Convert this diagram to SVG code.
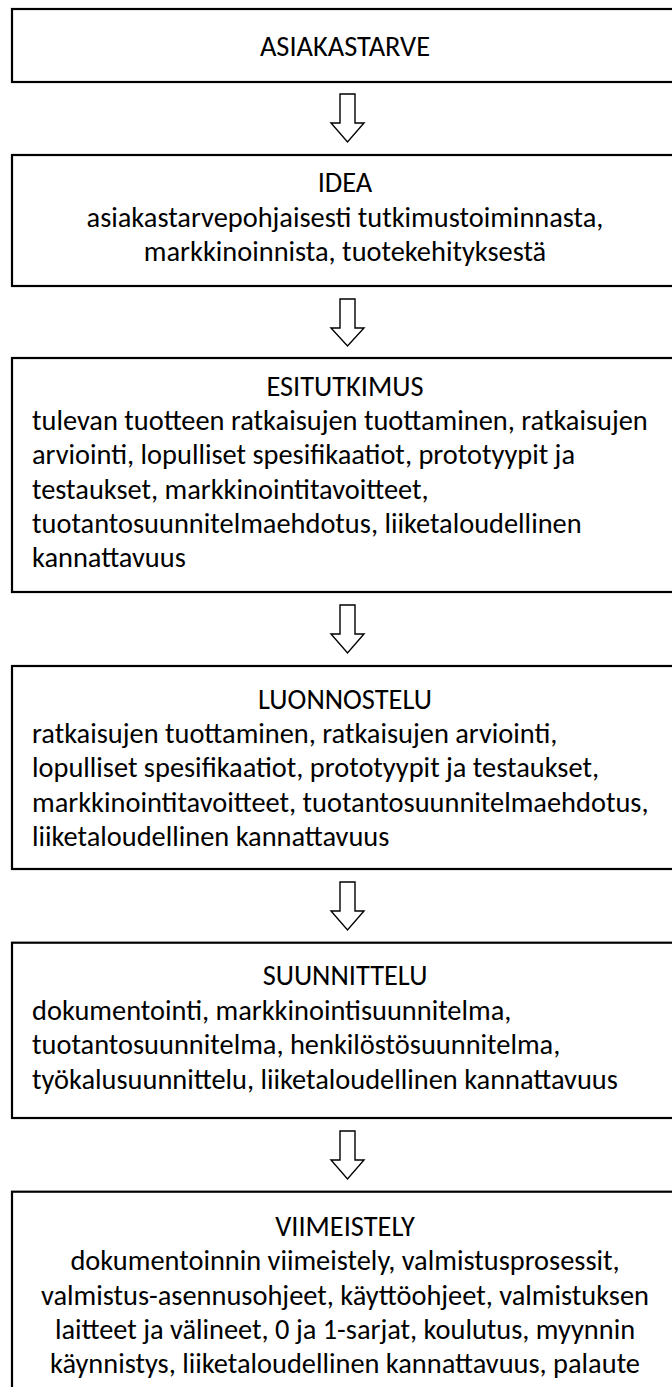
<svg xmlns="http://www.w3.org/2000/svg" width="672" height="1387" viewBox="0 0 672 1387">
<style>
.box{fill:#fff;stroke:#000;stroke-width:2.2}
.arr{fill:#fff;stroke:#000;stroke-width:1.4;stroke-linejoin:miter}
text{font-family:Carlito,Calibri,Lato,"Liberation Sans",sans-serif;font-size:28.4px;fill:#000}
.c{text-anchor:middle}
</style>
<rect width="672" height="1387" fill="#fff"/>
<g id="connectors">
<path class="arr" d="M340,94 V123 H331 L347.5,142 L364,123 H355 V94 Z"/>
<path class="arr" d="M340,299 V328 H331 L347.5,346 L364,328 H355 V299 Z"/>
<path class="arr" d="M340,605 V634 H331 L347.5,653 L364,634 H355 V605 Z"/>
<path class="arr" d="M340,882 V911 H331 L347.5,930 L364,911 H355 V882 Z"/>
<path class="arr" d="M340,1131 V1160 H331 L347.5,1179 L364,1160 H355 V1131 Z"/>
</g>
<g id="asiakastarve">
<rect class="box" x="12" y="9" width="668" height="73"/>
<text class="c" x="345" y="56">ASIAKASTARVE</text>
</g>
<g id="idea">
<rect class="box" x="12" y="155" width="668" height="131"/>
<text class="c" x="345" y="192">IDEA</text>
<text class="c" x="345" y="226.5">asiakastarvepohjaisesti tutkimustoiminnasta,</text>
<text class="c" x="345" y="261">markkinoinnista, tuotekehityksestä</text>
</g>
<g id="esitutkimus">
<rect class="box" x="12" y="358" width="668" height="234"/>
<text class="c" x="345" y="396">ESITUTKIMUS</text>
<text x="32" y="430">tulevan tuotteen ratkaisujen tuottaminen, ratkaisujen</text>
<text x="32" y="464">arviointi, lopulliset spesifikaatiot, prototyypit ja</text>
<text x="32" y="498.5">testaukset, markkinointitavoitteet,</text>
<text x="32" y="532.5">tuotantosuunnitelmaehdotus, liiketaloudellinen</text>
<text x="32" y="567">kannattavuus</text>
</g>
<g id="luonnostelu">
<rect class="box" x="12" y="666" width="668" height="203"/>
<text class="c" x="345" y="708.5">LUONNOSTELU</text>
<text x="32" y="743">ratkaisujen tuottaminen, ratkaisujen arviointi,</text>
<text x="32" y="777">lopulliset spesifikaatiot, prototyypit ja testaukset,</text>
<text x="32" y="811.5">markkinointitavoitteet, tuotantosuunnitelmaehdotus,</text>
<text x="32" y="846">liiketaloudellinen kannattavuus</text>
</g>
<g id="suunnittelu">
<rect class="box" x="12" y="942.7" width="668" height="175.3"/>
<text class="c" x="345" y="985">SUUNNITTELU</text>
<text x="32" y="1020">dokumentointi, markkinointisuunnitelma,</text>
<text x="32" y="1054">tuotantosuunnitelma, henkilöstösuunnitelma,</text>
<text x="32" y="1088.5">työkalusuunnittelu, liiketaloudellinen kannattavuus</text>
</g>
<g id="viimeistely">
<rect class="box" x="12" y="1191.7" width="668" height="220"/>
<text class="c" x="345" y="1236">VIIMEISTELY</text>
<text class="c" x="345" y="1270">dokumentoinnin viimeistely, valmistusprosessit,</text>
<text class="c" x="345" y="1304.5">valmistus-asennusohjeet, käyttöohjeet, valmistuksen</text>
<text class="c" x="345" y="1339">laitteet ja välineet, 0 ja 1-sarjat, koulutus, myynnin</text>
<text class="c" x="345" y="1373">käynnistys, liiketaloudellinen kannattavuus, palaute</text>
</g>
</svg>
